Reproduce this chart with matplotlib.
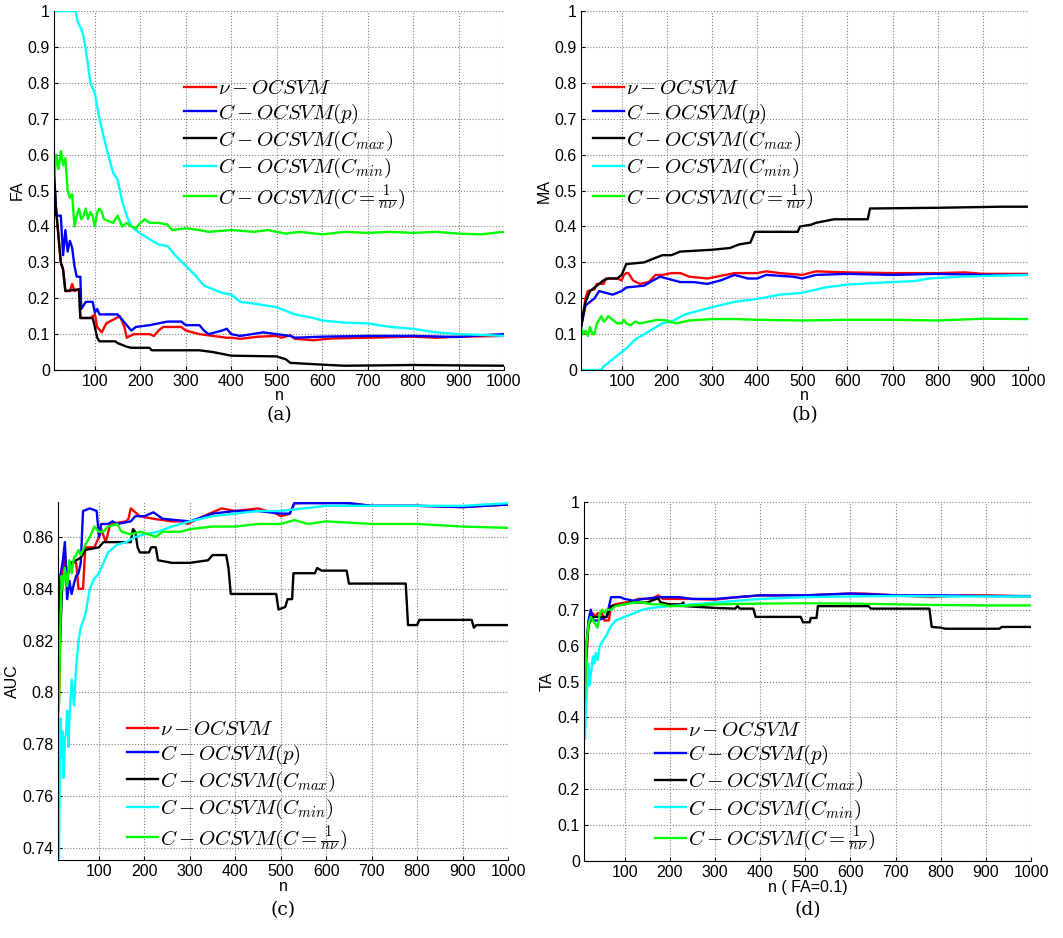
import numpy as np
import matplotlib.pyplot as plt

plt.rcParams['font.family'] = 'Liberation Sans'
plt.rcParams['mathtext.fontset'] = 'cm'

labels = [r'$\nu-OCSVM$', r'$C-OCSVM(p)$', r'$C-OCSVM(C_{max})$',
          r'$C-OCSVM(C_{min})$', r'$C-OCSVM(C=\frac{1}{n\nu})$']
colors = ['#ff0000', '#0000ff', '#000000', '#00ffff', '#00ff00']

# (n, value) vertices for each curve

# FA
fa_nu = [(10,0.56),(13,0.47),(18,0.40),(20,0.37),(25,0.30),(30,0.28),(35,0.22),(45,0.22),(50,0.24),
         (55,0.22),(65,0.225),(68,0.145),(90,0.145),(100,0.155),(105,0.12),(115,0.105),(125,0.13),
         (140,0.14),(155,0.15),(165,0.12),(170,0.09),(185,0.10),(220,0.10),(230,0.095),(240,0.11),
         (250,0.12),(290,0.12),(300,0.11),(330,0.10),(360,0.095),(390,0.09),(400,0.09),(420,0.087),
         (460,0.093),(500,0.095),(510,0.09),(530,0.097),(540,0.087),(580,0.083),(620,0.088),
         (700,0.09),(800,0.093),(850,0.09),(900,0.093),(1000,0.095)]
fa_p = [(10,0.56),(15,0.43),(25,0.43),(30,0.32),(35,0.39),(40,0.33),(45,0.36),(50,0.34),(55,0.29),
        (60,0.26),(68,0.26),(70,0.17),(80,0.19),(95,0.19),(100,0.16),(105,0.17),(110,0.155),
        (150,0.155),(160,0.14),(180,0.11),(190,0.12),(220,0.125),(240,0.13),(260,0.135),(290,0.135),
        (300,0.125),(330,0.125),(340,0.11),(350,0.10),(380,0.11),(390,0.115),(400,0.10),(420,0.095),
        (470,0.105),(500,0.10),(530,0.095),(540,0.09),(600,0.093),(700,0.095),(800,0.095),
        (900,0.092),(950,0.097),(1000,0.10)]
fa_cmax = [(10,0.56),(13,0.47),(20,0.37),(25,0.30),(30,0.28),(35,0.22),(65,0.225),(68,0.145),
           (95,0.145),(100,0.12),(105,0.09),(110,0.08),(145,0.08),(150,0.075),(170,0.065),
           (180,0.062),(220,0.062),(225,0.055),(330,0.055),(360,0.05),(400,0.04),(500,0.038),
           (520,0.03),(530,0.02),(600,0.015),(650,0.012),(800,0.014),(1000,0.012)]
fa_cmin = [(10,1.0),(58,1.0),(62,0.97),(70,0.95),(75,0.93),(85,0.85),(90,0.80),(100,0.77),
           (110,0.70),(125,0.62),(140,0.55),(150,0.53),(160,0.47),(170,0.43),(180,0.40),
           (200,0.38),(220,0.365),(240,0.35),(260,0.345),(280,0.315),(300,0.29),(320,0.265),
           (340,0.235),(360,0.225),(380,0.215),(400,0.21),(420,0.19),(450,0.185),(500,0.175),
           (520,0.165),(540,0.155),(580,0.145),(600,0.138),(650,0.132),(700,0.13),(750,0.12),
           (800,0.115),(850,0.105),(900,0.10),(950,0.098),(1000,0.095)]
fa_inv = [(10,0.52),(15,0.60),(20,0.56),(25,0.61),(30,0.57),(35,0.59),(40,0.50),(45,0.48),
          (50,0.49),(55,0.40),(60,0.43),(65,0.45),(70,0.42),(75,0.43),(80,0.45),(85,0.42),
          (90,0.44),(95,0.43),(100,0.40),(105,0.44),(110,0.45),(115,0.44),(120,0.42),(130,0.415),
          (140,0.41),(150,0.43),(160,0.40),(170,0.41),(180,0.40),(190,0.395),(200,0.41),(210,0.42),
          (220,0.41),(240,0.41),(260,0.405),(270,0.39),(300,0.395),(330,0.39),(350,0.385),
          (400,0.39),(450,0.385),(480,0.39),(500,0.385),(520,0.38),(550,0.385),(600,0.378),
          (650,0.385),(700,0.382),(750,0.385),(800,0.382),(850,0.385),(900,0.38),(950,0.378),
          (1000,0.385)]

# MA
ma_nu = [(10,0.12),(15,0.16),(20,0.20),(25,0.22),(40,0.225),(45,0.24),(60,0.24),(65,0.255),
         (90,0.255),(100,0.25),(105,0.265),(110,0.27),(115,0.27),(125,0.25),(140,0.24),(160,0.245),
         (175,0.265),(190,0.265),(210,0.27),(230,0.27),(250,0.26),(290,0.255),(310,0.26),(350,0.27),
         (400,0.27),(420,0.275),(450,0.27),(500,0.265),(530,0.275),(600,0.272),(700,0.27),
         (800,0.27),(860,0.272),(900,0.268),(1000,0.268)]
ma_p = [(10,0.12),(15,0.15),(20,0.18),(30,0.19),(40,0.20),(50,0.22),(65,0.215),(80,0.21),
        (100,0.22),(110,0.23),(150,0.235),(170,0.25),(185,0.26),(200,0.255),(230,0.245),
        (260,0.245),(290,0.24),(320,0.25),(350,0.265),(380,0.255),(400,0.255),(420,0.265),
        (480,0.26),(500,0.255),(530,0.265),(600,0.268),(700,0.265),(800,0.268),(900,0.265),
        (1000,0.265)]
ma_cmax = [(10,0.12),(20,0.19),(30,0.22),(40,0.23),(50,0.24),(60,0.25),(70,0.255),(90,0.255),
           (100,0.265),(110,0.295),(150,0.30),(170,0.31),(190,0.32),(210,0.32),(230,0.33),
           (300,0.335),(340,0.34),(350,0.345),(360,0.35),(385,0.355),(395,0.385),(490,0.385),
           (495,0.40),(520,0.405),(530,0.41),(570,0.42),(645,0.42),(650,0.45),(800,0.452),
           (940,0.455),(1000,0.455)]
ma_cmin = [(10,0.0),(55,0.0),(60,0.01),(70,0.02),(90,0.04),(110,0.06),(130,0.085),(150,0.10),
           (170,0.115),(190,0.13),(210,0.135),(240,0.155),(270,0.165),(300,0.175),(350,0.19),
           (400,0.198),(450,0.21),(500,0.215),(550,0.23),(600,0.238),(650,0.242),(700,0.245),
           (750,0.248),(780,0.255),(850,0.26),(900,0.262),(1000,0.265)]
ma_inv = [(10,0.12),(15,0.10),(20,0.11),(25,0.095),(30,0.12),(35,0.10),(40,0.10),(45,0.13),
          (50,0.14),(55,0.15),(60,0.135),(65,0.14),(70,0.15),(80,0.14),(90,0.13),(100,0.13),
          (105,0.14),(110,0.13),(120,0.125),(130,0.135),(140,0.13),(160,0.135),(180,0.14),
          (200,0.138),(220,0.13),(250,0.138),(300,0.142),(350,0.142),(400,0.14),(500,0.138),
          (600,0.14),(700,0.14),(800,0.138),(900,0.143),(1000,0.142)]

# AUC
auc_nu = [(10,0.81),(12,0.796),(17,0.845),(20,0.845),(25,0.855),(30,0.843),(35,0.85),(50,0.85),
          (55,0.84),(65,0.84),(70,0.856),(90,0.856),(100,0.86),(105,0.863),(115,0.858),(125,0.865),
          (160,0.866),(165,0.867),(170,0.871),(190,0.868),(220,0.867),(260,0.866),(280,0.866),
          (295,0.865),(330,0.868),(370,0.871),(400,0.87),(450,0.871),(490,0.869),(500,0.868),
          (520,0.869),(530,0.873),(600,0.8735),(650,0.873),(700,0.872),(800,0.872),(900,0.8715),
          (1000,0.8725)]
auc_p = [(10,0.80),(15,0.845),(20,0.85),(25,0.858),(30,0.836),(35,0.843),(40,0.838),(45,0.842),
         (50,0.845),(55,0.846),(60,0.85),(65,0.87),(80,0.871),(95,0.87),(100,0.86),(105,0.865),
         (120,0.865),(130,0.866),(140,0.865),(170,0.866),(180,0.868),(200,0.868),(220,0.8695),
         (240,0.867),(300,0.866),(350,0.869),(400,0.87),(450,0.87),(500,0.869),(520,0.869),
         (530,0.873),(600,0.873),(650,0.873),(700,0.872),(800,0.872),(900,0.8715),(1000,0.8725)]
auc_cmax = [(10,0.80),(20,0.845),(30,0.845),(40,0.85),(60,0.852),(70,0.855),(100,0.856),
            (110,0.858),(170,0.858),(175,0.863),(180,0.862),(185,0.856),(190,0.854),(210,0.854),
            (215,0.856),(225,0.856),(230,0.851),(260,0.85),(300,0.85),(340,0.851),(350,0.853),
            (380,0.853),(385,0.848),(390,0.838),(490,0.838),(495,0.832),(510,0.833),(515,0.836),
            (525,0.836),(528,0.846),(575,0.846),(580,0.848),(590,0.847),(645,0.847),(650,0.842),
            (775,0.842),(780,0.826),(800,0.826),(805,0.828),(920,0.828),(925,0.825),(930,0.826),
            (1000,0.826)]
auc_cmin = [(10,0.755),(12,0.736),(15,0.79),(18,0.775),(20,0.785),(22,0.767),(25,0.782),
            (28,0.785),(30,0.793),(33,0.779),(35,0.79),(40,0.805),(45,0.795),(50,0.81),(55,0.82),
            (60,0.825),(70,0.83),(80,0.84),(90,0.844),(100,0.846),(110,0.85),(120,0.854),
            (140,0.857),(160,0.858),(180,0.86),(200,0.861),(230,0.862),(260,0.864),(300,0.866),
            (350,0.868),(400,0.869),(450,0.87),(500,0.87),(550,0.871),(600,0.872),(700,0.872),
            (800,0.872),(900,0.872),(1000,0.873)]
auc_inv = [(10,0.79),(12,0.795),(15,0.825),(18,0.845),(20,0.84),(25,0.848),(30,0.841),(35,0.851),
           (40,0.846),(45,0.852),(50,0.853),(55,0.855),(60,0.853),(70,0.857),(80,0.86),(90,0.864),
           (100,0.862),(110,0.862),(120,0.864),(140,0.865),(150,0.862),(170,0.861),(190,0.862),
           (210,0.861),(225,0.86),(240,0.862),(280,0.862),(300,0.863),(350,0.864),(400,0.864),
           (450,0.865),(500,0.865),(530,0.8665),(560,0.865),(600,0.866),(650,0.8655),(700,0.865),
           (800,0.865),(900,0.864),(1000,0.8635)]

# TA at FA = 0.1
ta_nu = [(10,0.52),(12,0.46),(15,0.55),(18,0.63),(20,0.66),(25,0.68),(30,0.69),(35,0.68),(40,0.69),
         (50,0.69),(55,0.67),(65,0.67),(70,0.71),(80,0.715),(100,0.72),(110,0.72),(130,0.73),
         (160,0.73),(175,0.74),(185,0.73),(200,0.73),(250,0.73),(300,0.728),(350,0.735),(400,0.74),
         (500,0.74),(600,0.745),(630,0.745),(700,0.74),(780,0.735),(850,0.74),(900,0.74),
         (1000,0.737)]
ta_p = [(10,0.50),(15,0.60),(20,0.67),(25,0.70),(30,0.67),(40,0.67),(50,0.675),(60,0.68),
        (70,0.735),(90,0.735),(100,0.73),(120,0.725),(140,0.73),(180,0.735),(220,0.735),(250,0.73),
        (300,0.73),(350,0.735),(400,0.74),(500,0.74),(600,0.745),(700,0.74),(800,0.74),(900,0.738),
        (1000,0.738)]
ta_cmax = [(10,0.50),(20,0.66),(30,0.68),(60,0.68),(70,0.71),(100,0.715),(110,0.72),(150,0.72),
           (170,0.73),(175,0.73),(180,0.72),(200,0.715),(225,0.715),(230,0.72),(232,0.71),
           (300,0.705),(345,0.703),(350,0.71),(355,0.703),(385,0.703),(390,0.68),(490,0.68),
           (495,0.665),(510,0.665),(512,0.677),(525,0.677),(528,0.71),(640,0.71),(645,0.703),
           (775,0.703),(780,0.652),(800,0.65),(810,0.647),(930,0.647),(935,0.652),(1000,0.652)]
ta_cmin = [(10,0.42),(12,0.34),(15,0.45),(18,0.50),(20,0.55),(22,0.49),(25,0.52),(30,0.57),
           (33,0.55),(36,0.58),(40,0.56),(45,0.60),(50,0.61),(55,0.62),(60,0.63),(70,0.655),
           (80,0.67),(90,0.675),(100,0.68),(120,0.69),(140,0.70),(160,0.705),(200,0.71),
           (250,0.715),(300,0.72),(350,0.725),(400,0.73),(500,0.735),(600,0.737),(700,0.738),
           (800,0.737),(900,0.737),(1000,0.737)]
ta_inv = [(10,0.47),(12,0.45),(15,0.60),(20,0.66),(25,0.68),(30,0.67),(35,0.66),(40,0.65),
          (45,0.69),(50,0.70),(55,0.69),(60,0.70),(70,0.70),(80,0.71),(100,0.715),(120,0.72),
          (140,0.72),(160,0.715),(180,0.715),(200,0.71),(230,0.71),(250,0.712),(300,0.715),
          (400,0.717),(500,0.718),(600,0.717),(700,0.715),(800,0.713),(900,0.712),(1000,0.712)]

xticks = list(range(100, 1001, 100))
yticks01 = [0, 0.1, 0.2, 0.3, 0.4, 0.5, 0.6, 0.7, 0.8, 0.9, 1]
ylabels01 = ['0', '0.1', '0.2', '0.3', '0.4', '0.5', '0.6', '0.7', '0.8', '0.9', '1']
yticks_auc = [0.74, 0.76, 0.78, 0.80, 0.82, 0.84, 0.86]
ylabels_auc = ['0.74', '0.76', '0.78', '0.8', '0.82', '0.84', '0.86']

panels = [
    dict(rect=[0.0508, 0.6055, 0.4233, 0.3827], data=[fa_nu, fa_p, fa_cmax, fa_cmin, fa_inv],
         ylabel='FA', xlabel='n', ylim=(0, 1), yt=(yticks01, ylabels01), leg=(0.29, 0.81),
         cap='(a)', capoff=0.048, xlpad=-1),
    dict(rect=[0.5466, 0.6055, 0.4205, 0.3827], data=[ma_nu, ma_p, ma_cmax, ma_cmin, ma_inv],
         ylabel='MA', xlabel='n', ylim=(0, 1), yt=(yticks01, ylabels01), leg=(0.027, 0.81),
         cap='(b)', capoff=0.048, xlpad=-1),
    dict(rect=[0.0546, 0.0832, 0.4233, 0.3817], data=[auc_nu, auc_p, auc_cmax, auc_cmin, auc_inv],
         ylabel='AUC', xlabel='n', ylim=(0.7354, 0.8735), yt=(yticks_auc, ylabels_auc),
         leg=(0.153, 0.39), cap='(c)', capoff=0.053, xlpad=0),
    dict(rect=[0.5494, 0.0821, 0.4205, 0.3827], data=[ta_nu, ta_p, ta_cmax, ta_cmin, ta_inv],
         ylabel='TA', xlabel='n ( FA=0.1)', ylim=(0, 1), yt=(yticks01, ylabels01),
         leg=(0.159, 0.39), cap='(d)', capoff=0.052, xlpad=0),
]

fig = plt.figure(figsize=(10.63, 9.38), dpi=100)

for p in panels:
    ax = fig.add_axes(p['rect'])
    for series, c, lab in zip(p['data'], colors, labels):
        xy = np.array(series)
        ax.plot(xy[:, 0], xy[:, 1], color=c, lw=1.7, label=lab)
    ax.set_xlim(10, 1000)
    ax.set_ylim(*p['ylim'])
    ax.set_xticks(xticks)
    ax.set_yticks(p['yt'][0])
    ax.set_yticklabels(p['yt'][1])
    ax.tick_params(direction='in', length=3, labelsize=11.5, width=0.8, pad=3)
    ax.grid(True, linestyle=':', color='#808080', linewidth=0.8)
    ax.spines['top'].set_visible(False)
    ax.spines['right'].set_visible(False)
    ax.set_ylabel(p['ylabel'], fontsize=11.5, labelpad=2)
    ax.set_xlabel(p['xlabel'], fontsize=11.5, labelpad=p['xlpad'])
    ax.legend(loc='upper left', bbox_to_anchor=p['leg'], frameon=False, fontsize=15,
              handlelength=1.5, handletextpad=0.1, labelspacing=0.15, borderpad=0,
              borderaxespad=0)
    box = ax.get_position()
    fig.text(box.x0 + box.width / 2, box.y0 - p['capoff'], p['cap'], ha='center', va='center',
             fontsize=13.5, family='DejaVu Serif')

fig.savefig('out.png', dpi=100)
